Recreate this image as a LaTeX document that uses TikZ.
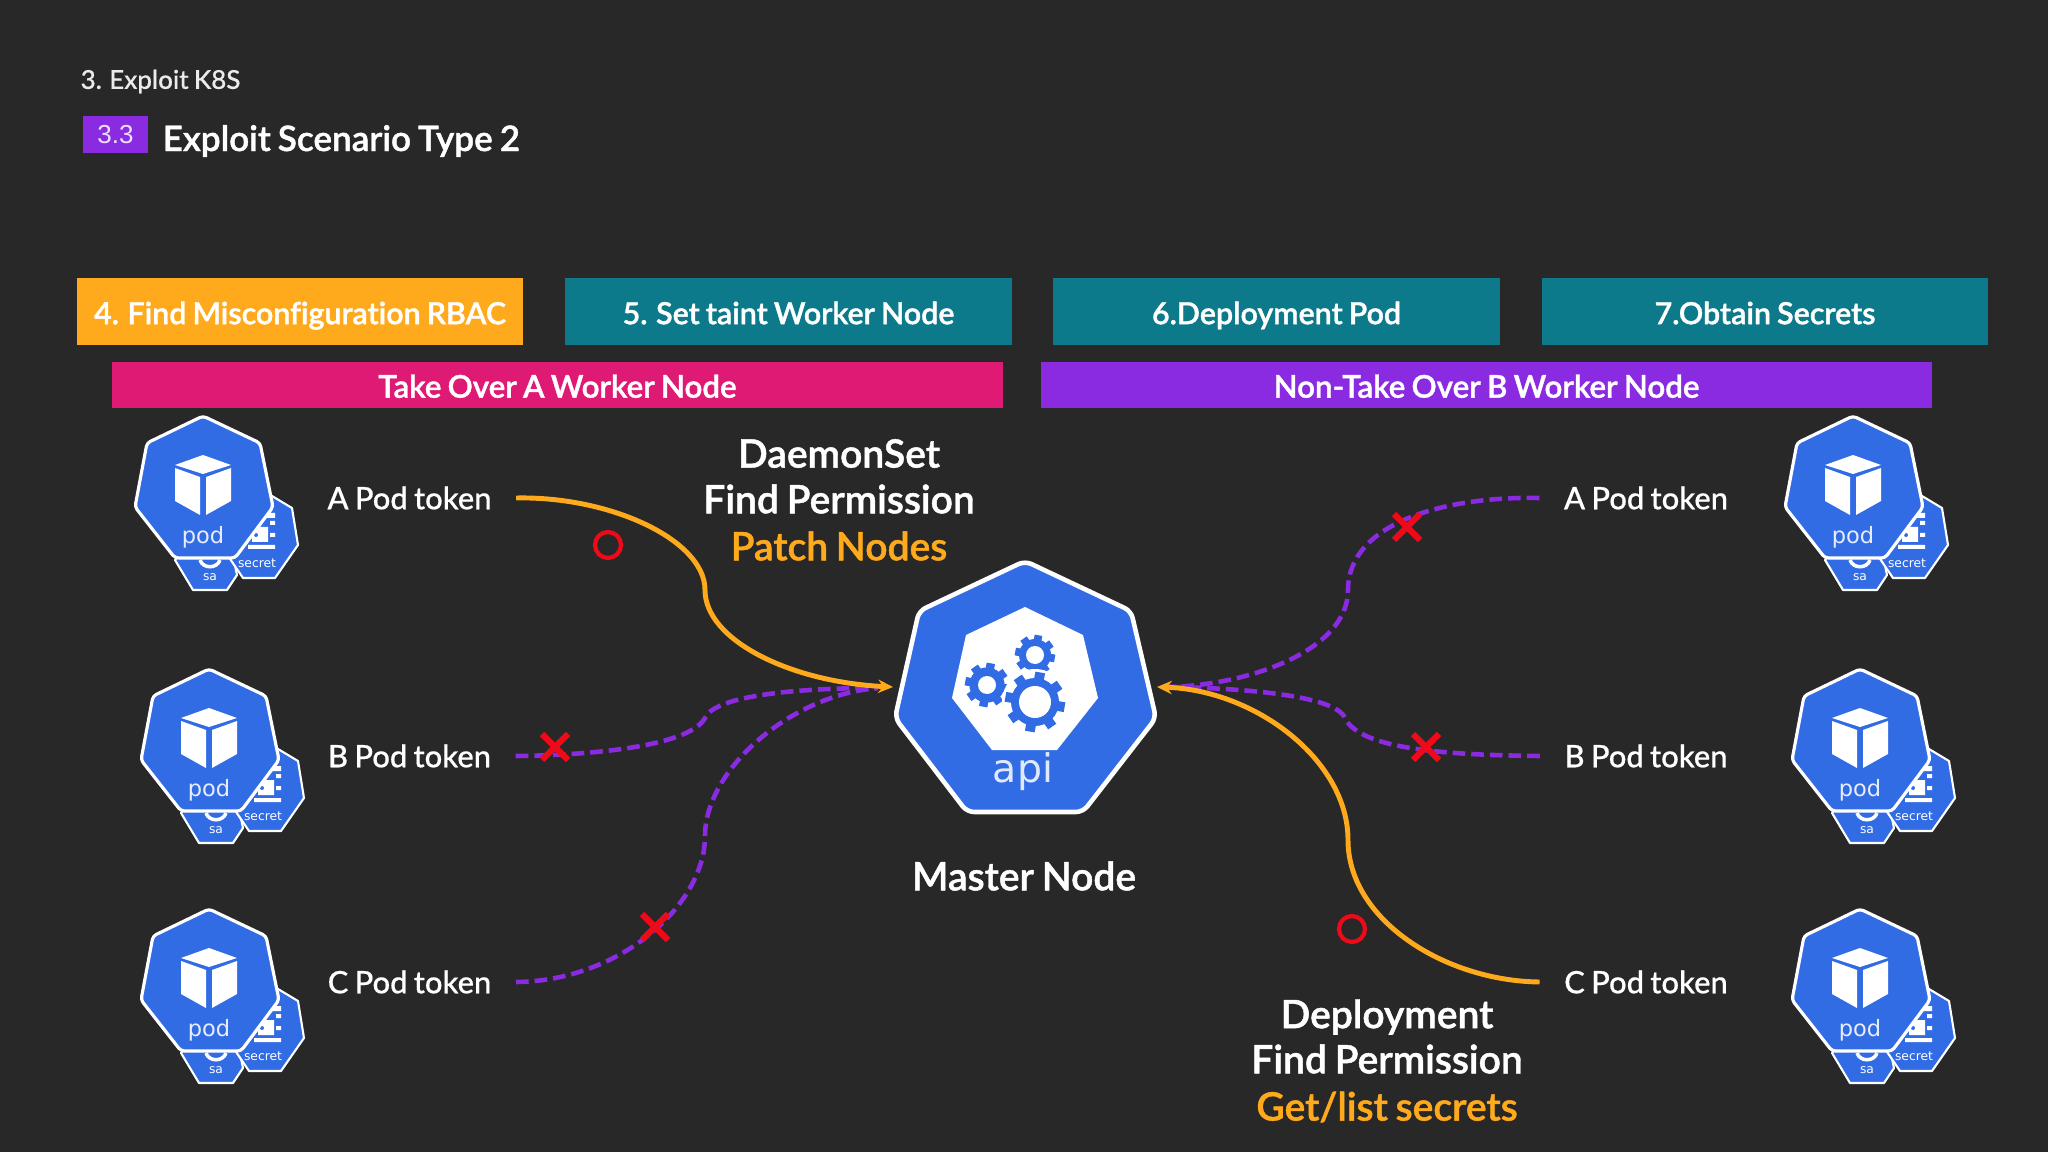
\documentclass[tikz,border=0pt]{standalone}
\usepackage{fontspec}
\setmainfont{Lato Medium}[WordSpace=0.8,FakeBold=0.5,RawFeature={-liga}]
\newfontfamily\semifont{Lato Semibold}[WordSpace=0.8,FakeBold=1.2,RawFeature={-liga}]
\newfontfamily\iconfont{DejaVu Sans}
\newfontfamily\badgefont{Liberation Sans}
\usetikzlibrary{arrows.meta,positioning,calc}

\definecolor{bgdark}{HTML}{282828}
\definecolor{kblue}{HTML}{326CE5}
\definecolor{amber}{HTML}{FFAA1C}
\definecolor{tealbar}{HTML}{0C7A8A}
\definecolor{pinkbar}{HTML}{DE1A75}
\definecolor{violet}{HTML}{8A2BE2}
\definecolor{crossred}{HTML}{EE0A18}

\tikzset{
  stepbar/.style={minimum width=4.46cm,minimum height=0.67cm,inner sep=0pt,text=white,text height=7.2pt,text depth=0pt,font=\semifont\fontsize{8.65}{10}\selectfont},
  takebar/.style={minimum width=8.91cm,minimum height=0.46cm,inner sep=0pt,text=white,text height=7.2pt,text depth=0pt,font=\semifont\fontsize{8.9}{10}\selectfont},
  bigtext/.style={inner sep=0pt,text=white,font=\semifont\fontsize{11.1}{12}\selectfont},
  tokenlbl/.style={inner ysep=0pt,inner xsep=0.24cm,text=white,font=\fontsize{8.8}{10}\selectfont},
  okline/.style={amber,line width=1.4pt},
  noline/.style={violet,line width=1.3pt,dash pattern=on 3.6pt off 1.7pt},
  crossmark/.style={crossred,line width=1.8pt},
  ringmark/.style={crossred,line width=1.2pt},
  tipmark/.style={-{Stealth[length=4.2pt,width=3.8pt]}},
  pod/.pic={
    % sa behind
    \draw[fill=kblue,draw=white,line width=0.6pt,line join=round]
      (-10,174) -- (24,174) -- (34,159) -- (28,130) -- (7,115) -- (-15,130) -- (-28,144) -- cycle;
    \draw[white,line width=1pt] (-3,144) .. controls (0,153) and (14,153) .. (17,144);
    \node[inner sep=0pt,text=white,font=\iconfont\fontsize{3.5}{4}\selectfont] (sa) at (7,161) {sa};
    % secret behind
    \draw[fill=kblue,draw=white,line width=0.6pt,line join=round]
      (59,74) -- (89,92) -- (95,129) -- (72,162) -- (40,162) -- (21,134) -- (27,94) -- cycle;
    \fill[white] (60,97) rectangle (72,102) (67,105) rectangle (72,109) (49,111) rectangle (65,126)
      (67,117) rectangle (72,121) (45,129) rectangle (72,133);
    \fill[kblue] (53,119) circle (2);
    \node[inner sep=0pt,text=white,font=\iconfont\fontsize{3.5}{4}\selectfont] (sec) at (54,147) {secret};
    % pod on top
    \draw[fill=kblue,draw=white,line width=0.9pt,line join=round,rounded corners=1pt]
      (0,0) -- (57,27) -- (70,91) -- (32,142) -- (-28,142) -- (-68,91) -- (-56,27) -- cycle;
    \fill[white] (0,39) -- (28,49) -- (0,58) -- (-28,49) -- cycle;
    \fill[white] (-28,52) -- (-3,61) -- (-3,99) -- (-28,85) -- cycle;
    \fill[white] (28,52) -- (3,61) -- (3,99) -- (28,85) -- cycle;
    \node[inner sep=0pt,text=white!88!kblue,font=\iconfont\fontsize{6.4}{7}\selectfont] (lbl) at (0,121) {pod};
  }
}

% x, y, outer radius, hole radius, tooth width
\newcommand{\apigear}[5]{
  \begin{scope}[shift={(#1,#2)}]
    \fill[kblue] (0,0) circle (#3*0.8);
    \foreach \a in {10,55,...,360}{
      \draw[kblue,line width=#5pt] (\a:#3*0.6) -- (\a:#3);
    }
    \fill[white] (0,0) circle (#4);
  \end{scope}
}

\begin{document}
\begin{tikzpicture}[x=0.01cm,y=-0.01cm,>=Stealth]
  \useasboundingbox (0,0) rectangle (2048,1152);
  \fill[bgdark] (0,0) rectangle (2048,1152);

  % header
  \node[anchor=west,inner sep=0pt,text=white!92!black,font=\fontsize{7.38}{9}\selectfont] (chap) at (80,81.5) {3. Exploit K8S};
  \node[minimum width=0.65cm,minimum height=0.37cm,inner sep=0pt,fill=violet,text=white!85!violet,font=\badgefont\fontsize{7.4}{9}\selectfont] (badge) at (115.5,134.5) {3.3};
  \node[anchor=west,inner sep=0pt,text=white,font=\semifont\fontsize{9.98}{12}\selectfont] (title) at (162,141) {Exploit Scenario Type 2};

  % steps
  \node[stepbar,fill=amber] (stepfour) at (300,311.5) {4. Find Misconfiguration RBAC};
  \node[stepbar,fill=tealbar] (stepfive) at (788.5,311.5) {5. Set taint Worker Node};
  \node[stepbar,fill=tealbar] (stepsix) at (1276.5,311.5) {6.Deployment Pod};
  \node[stepbar,fill=tealbar] (stepseven) at (1765,311.5) {7.Obtain Secrets};
  \node[takebar,fill=pinkbar] (takeA) at (557.5,385) {Take Over A Worker Node};
  \node[takebar,fill=violet] (takeB) at (1486.5,385) {Non-Take Over B Worker Node};

  % pods
  \pic (podLA) at (203,416) {pod};
  \pic (podLB) at (209,669) {pod};
  \pic (podLC) at (209,909) {pod};
  \pic (podRA) at (1853,416) {pod};
  \pic (podRB) at (1860,669) {pod};
  \pic (podRC) at (1860,909) {pod};

  % tokens
  \node[tokenlbl] (tokLA) at (409.5,498) {A Pod token};
  \node[tokenlbl] (tokLB) at (409.5,756) {B Pod token};
  \node[tokenlbl] (tokLC) at (409.5,982) {C Pod token};
  \node[tokenlbl] (tokRA) at (1646,498) {A Pod token};
  \node[tokenlbl] (tokRB) at (1646,756) {B Pod token};
  \node[tokenlbl] (tokRC) at (1646,982) {C Pod token};

  % master node
  \draw[fill=kblue,draw=white,line width=1.3pt,line join=round,rounded corners=2pt]
    (1025,561) -- (1131,611) -- (1156,718) -- (1083,812) -- (967,812) -- (895,718) -- (919,611) -- cycle;
  \fill[white] (1025,607) -- (1083,635) -- (1098,698) -- (1057,750) -- (992,750) -- (952,698) -- (966,635) -- cycle;
  \apigear{987}{685}{22}{9}{2.4}
  \apigear{1035}{655}{20}{9}{2.2}
  \fill[white] (1035,702) circle (33);
  \apigear{1035}{702}{30}{16}{2.8}
  \node[inner sep=0pt,text=white!85!kblue,font=\iconfont\fontsize{11.2}{13}\selectfont] (apilbl) at (1023,772) {api};
  \coordinate (apiL) at (893,687);
  \coordinate (apiR) at (1157,687);
  \node[bigtext] (master) at (1024,876) {Master Node};

  % captions
  \node[bigtext] (capDa) at (839,453.5) {DaemonSet};
  \node[bigtext] (capDb) at (839,499) {Find Permission};
  \node[bigtext,text=amber] (capDc) at (839,546) {Patch Nodes};
  \node[bigtext] (capGa) at (1387,1017) {Deployment};
  \node[bigtext] (capGb) at (1387,1059) {Find Permission};
  \node[bigtext,text=amber] (capGc) at (1387,1107) {Get/list secrets};

  % failed paths
  \draw[noline] (tokLB.east) .. controls (600,755) and (690,745) .. (705,718)
    .. controls (715,695) and (800,688) .. ($(apiL)+(-15,1)$);
  \draw[noline] (tokLC.east) .. controls (620,981) and (705,905) .. (705,836)
    .. controls (705,770) and (790,695) .. ($(apiL)+(-15,1)$);
  \draw[noline] (tokRA.west) .. controls (1440,496) and (1348,525) .. (1348,590)
    .. controls (1348,650) and (1250,685) .. ($(apiR)+(12,0)$);
  \draw[noline] (tokRB.west) .. controls (1450,755) and (1360,750) .. (1345,718)
    .. controls (1335,695) and (1240,688) .. ($(apiR)+(12,0)$);

  % working paths
  \draw[okline,tipmark] (tokLA.east) .. controls (610,496) and (705,540) .. (705,590)
    .. controls (705,640) and (790,682) .. (apiL);
  \draw[okline,tipmark] (tokRC.west) .. controls (1445,981) and (1348,920) .. (1348,840)
    .. controls (1348,760) and (1255,690) .. (apiR);

  % marks
  \foreach \n/\x/\y in {mkB/555/747,mkC/655/927,mkRA/1407/527,mkRB/1426/747}{
    \coordinate (\n) at (\x,\y);
    \draw[crossmark] ($(\n)+(-13,-13)$) -- ($(\n)+(13,13)$);
    \draw[crossmark] ($(\n)+(-13,13)$) -- ($(\n)+(13,-13)$);
  }
  \draw[ringmark] (608,545) circle (13);
  \draw[ringmark] (1352,929) circle (13);
\end{tikzpicture}
\end{document}
